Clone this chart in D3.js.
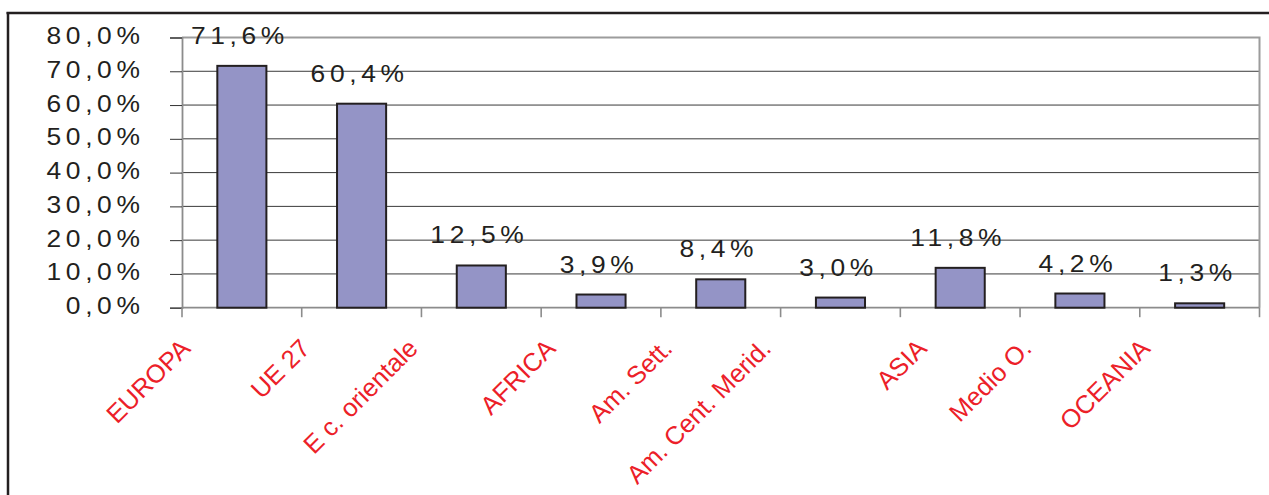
<!DOCTYPE html>
<html>
<head>
<meta charset="utf-8">
<script src="https://cdn.jsdelivr.net/npm/d3@7/dist/d3.min.js"></script>
<style>
  html, body { margin: 0; padding: 0; background: #fff; }
  svg { display: block; }
  text { font-family: Arial, "Liberation Sans", sans-serif; }
</style>
</head>
<body>
<script>
// Share of destinations by area (%)
const categories = ["EUROPA", "UE 27", "E c. orientale", "AFRICA", "Am. Sett.",
                    "Am. Cent. Merid.", "ASIA", "Medio O.", "OCEANIA"];
const shares = [71.6, 60.4, 12.5, 3.9, 8.4, 3.0, 11.8, 4.2, 1.3];
const yTickValues = [0, 10, 20, 30, 40, 50, 60, 70, 80];

// layout
const W = 1269, H = 495;
const plot = { left: 182, right: 1259.5, top: 37.5, bottom: 307.7 };
const numStretch = 1.1;               // horizontal stretch of numeric labels
const numSpacing = "4.2px";
const catLabelNudge = [-50, -50, -62, -44, -47, -68, -32, -47, -48];

const pct = v => v.toFixed(1).replace(".", ",") + "%";

const svg = d3.select("body").append("svg")
  .attr("width", W).attr("height", H);

// outer frame (top and left edges)
svg.append("line").attr("x1", 6.5).attr("x2", W).attr("y1", 13).attr("y2", 13)
  .attr("stroke", "#231f20").attr("stroke-width", 2.5);
svg.append("line").attr("x1", 8).attr("x2", 8).attr("y1", 12).attr("y2", H)
  .attr("stroke", "#231f20").attr("stroke-width", 2.5);

const x = d3.scaleBand().domain(categories).range([plot.left, plot.right])
  .paddingInner(0).paddingOuter(0);
const y = d3.scaleLinear().domain([0, 80]).range([plot.bottom, plot.top]);

// gridlines
svg.append("g").selectAll("line").data(yTickValues.filter(v => v > 0 && v < 80))
  .join("line")
  .attr("x1", plot.left).attr("x2", plot.right)
  .attr("y1", d => y(d)).attr("y2", d => y(d))
  .attr("stroke", "#3a3a3a").attr("stroke-width", 1);

// plot frame: top and right in grey
svg.append("path")
  .attr("d", `M${plot.left},${y(80)}H${plot.right}V${plot.bottom}`)
  .attr("fill", "none").attr("stroke", "#9c9c9c").attr("stroke-width", 2);

// y axis
const yAxis = d3.axisLeft(y).tickValues(yTickValues).tickSize(12).tickFormat(pct);
const gy = svg.append("g").attr("transform", `translate(${plot.left},0)`).call(yAxis);
gy.select(".domain").attr("stroke", "#8c8c8c").attr("stroke-width", 1.8);
gy.selectAll(".tick line").attr("stroke", "#333").attr("stroke-width", 1);
gy.selectAll(".tick text")
  .attr("x", 0).attr("dy", null)
  .attr("transform", `translate(-37.5,6) scale(${numStretch},1)`)
  .attr("text-anchor", "end")
  .attr("fill", "#231f20")
  .style("font-size", "24px")
  .style("letter-spacing", numSpacing)
  .style("font-family", "Arial, 'Liberation Sans', sans-serif");

// x axis baseline and category boundary ticks
svg.append("line").attr("x1", plot.left).attr("x2", plot.right)
  .attr("y1", plot.bottom).attr("y2", plot.bottom)
  .attr("stroke", "#8c8c8c").attr("stroke-width", 1.8);
const bounds = categories.map(c => x(c)).concat([x(categories[categories.length - 1]) + x.bandwidth()]);
svg.append("g").selectAll("line").data(bounds).join("line")
  .attr("x1", d => d).attr("x2", d => d)
  .attr("y1", plot.bottom).attr("y2", plot.bottom + 9.5)
  .attr("stroke", "#8c8c8c").attr("stroke-width", 1.6);

// bars
const barW = x.bandwidth() * 0.41;
svg.append("g").selectAll("rect").data(shares).join("rect")
  .attr("x", (d, i) => x(categories[i]) + x.bandwidth() / 2 - barW / 2)
  .attr("y", d => y(d))
  .attr("width", barW)
  .attr("height", d => plot.bottom - y(d))
  .attr("fill", "#9494c6")
  .attr("stroke", "#231f20").attr("stroke-width", 2);

// value labels
svg.append("g").selectAll("text").data(shares).join("text")
  .attr("transform", (d, i) =>
    `translate(${x(categories[i]) + x.bandwidth() / 2 - 2},${y(d) - 22}) scale(${numStretch},1)`)
  .attr("text-anchor", "middle")
  .attr("fill", "#231f20")
  .style("font-size", "24px")
  .style("letter-spacing", numSpacing)
  .text(d => pct(d));

// category labels, rotated
svg.append("g").selectAll("text").data(categories).join("text")
  .attr("transform", (d, i) =>
    `translate(${x(d) + x.bandwidth() / 2 + catLabelNudge[i]},350) rotate(-45)`)
  .attr("text-anchor", "end")
  .attr("fill", "#ec2028")
  .style("font-size", "25.5px")
  .text(d => d);
</script>
</body>
</html>
